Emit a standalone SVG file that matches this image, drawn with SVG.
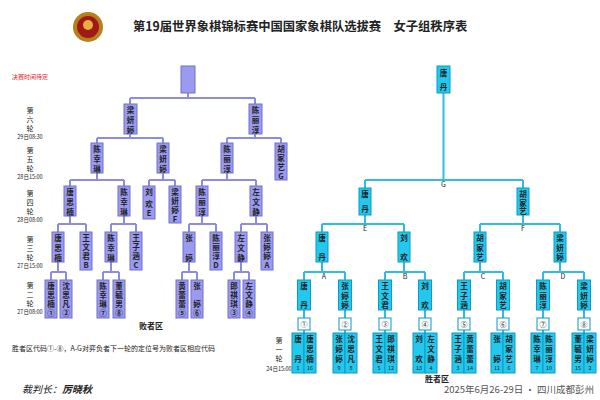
<svg xmlns="http://www.w3.org/2000/svg" width="600" height="400" viewBox="0 0 600 400">
<style>
text{font-family:"Noto Sans CJK SC","Noto Sans",sans-serif;fill:#222}
.p{fill:#9a9af0;stroke:#7070d0;stroke-width:1}
.c{fill:#22c8ee;stroke:#0a9cc4;stroke-width:1}
.lp{fill:none;stroke:#8c8ce0;stroke-width:2}
.lc{fill:none;stroke:#30bde0;stroke-width:2}
.n{font-size:7.6px;text-anchor:middle;font-weight:bold}
.s{font-size:5.5px;text-anchor:middle}
.r{font-size:7px;text-anchor:middle}
.L{font-size:7px;text-anchor:middle}
</style>
<rect width="600" height="400" fill="#fff"/>
<g id="header">
<circle cx="88" cy="27" r="15" fill="#b8801a"/><circle cx="88" cy="27" r="11" fill="#a01818"/><circle cx="88" cy="25" r="5" fill="#e8b040"/>
<text x="133" y="31" style="font-size:12.3px;font-weight:bold">第19届世界象棋锦标赛中国国家象棋队选拔赛　女子组秩序表</text>
<text x="12" y="79" style="font-size:6px;fill:#e02020">决赛时间待定</text>
</g>
<g id="round-labels">
<text class="r" x="30" y="113">第<tspan x="30" dy="9">六</tspan><tspan x="30" dy="9">轮</tspan></text><text class="s" x="30" y="139">29日08:30</text>
<text class="r" x="30" y="153">第<tspan x="30" dy="9">五</tspan><tspan x="30" dy="9">轮</tspan></text><text class="s" x="30" y="179">28日15:00</text>
<text class="r" x="30" y="196">第<tspan x="30" dy="9">四</tspan><tspan x="30" dy="9">轮</tspan></text><text class="s" x="30" y="222">28日08:00</text>
<text class="r" x="30" y="242">第<tspan x="30" dy="9">三</tspan><tspan x="30" dy="9">轮</tspan></text><text class="s" x="30" y="268">27日15:00</text>
<text class="r" x="30" y="288">第<tspan x="30" dy="9">二</tspan><tspan x="30" dy="9">轮</tspan></text><text class="s" x="30" y="314">27日08:00</text>
<text class="r" x="279" y="343">第<tspan x="279" dy="9">一</tspan><tspan x="279" dy="9">轮</tspan></text><text class="s" x="279" y="371">24日15:00</text>
</g>
<g id="connectors">
<path class="lp" d="M188,93V98M130,98H255M130,98V104M255,98V104
M130,134V138M97,138H163M97,138V143M163,138V143M255,134V138M227,138H281M227,138V143M281,138V143
M97,173V180M70,180H124M70,180V186M124,180V186M163,173V180M149,180H175M149,180V186M175,180V186M227,173V180M202,180H256M202,180V186M256,180V186
M70,216V224M58,224H86M58,224V232M86,224V232M124,216V224M111,224H136M111,224V232M136,224V232M202,216V224M189,224H216M189,224V232M216,224V232M256,216V224M241,224H267M241,224V232M267,224V232
M58,262V272M51,272H66M51,272V280M66,272V280M111,262V272M103,272H119M103,272V280M119,272V280M189,262V272M182,272H197M182,272V280M197,272V280M241,262V272M234,272H249M234,272V280M249,272V280"/>
<path class="lc" d="M443.5,93V180M365,180H523M365,180V188M523,180V188
M365,215V224M322,224H404M322,224V232M404,224V232M523,215V224M480,224H560M480,224V232M560,224V232
M322,262V272M304,272H345M304,272V280M345,272V280M404,262V272M385,272H425M385,272V280M425,272V280M480,262V272M464,272H503M464,272V280M503,272V280M560,262V272M543,272H584M543,272V280M584,272V280
M304,310V333M345,310V333M385,310V333M425,310V333M464,310V333M503,310V333M543,310V333M584,310V333"/>
<text class="L" x="443.5" y="187">G</text><text class="L" x="365" y="231">E</text><text class="L" x="523" y="231">F</text>
<text class="L" x="324" y="279">A</text><text class="L" x="405" y="279">B</text><text class="L" x="483" y="279">C</text><text class="L" x="563" y="279">D</text>
</g>
<g id="loser-bracket">
<rect class="p" x="181" y="66" width="14" height="27"/>
<g id="l5a"><rect class="p" x="124" y="104" width="13" height="30"/><text class="n" x="130.5" y="113">梁<tspan x="130.5" dy="10">妍</tspan><tspan x="130.5" dy="10">婷</tspan></text></g>
<g id="l5b"><rect class="p" x="249" y="104" width="13" height="30"/><text class="n" x="255.5" y="113">陈<tspan x="255.5" dy="10">丽</tspan><tspan x="255.5" dy="10">淳</tspan></text></g>
<g id="l4a"><rect class="p" x="91" y="143" width="12" height="30"/><text class="n" x="97" y="152">陈<tspan x="97" dy="10">幸</tspan><tspan x="97" dy="10">琳</tspan></text></g>
<g id="l4b"><rect class="p" x="157" y="143" width="12" height="30"/><text class="n" x="163" y="152">梁<tspan x="163" dy="10">妍</tspan><tspan x="163" dy="10">婷</tspan></text></g>
<g id="l4c"><rect class="p" x="221" y="143" width="12" height="30"/><text class="n" x="227" y="152">陈<tspan x="227" dy="10">丽</tspan><tspan x="227" dy="10">淳</tspan></text></g>
<g id="l4d"><rect class="p" x="275" y="143" width="12" height="37"/><text class="n" x="281" y="152">胡<tspan x="281" dy="9">家</tspan><tspan x="281" dy="9">艺</tspan><tspan x="281" dy="9">G</tspan></text></g>
<g id="l3a"><rect class="p" x="64" y="186" width="12" height="30"/><text class="n" x="70" y="195">唐<tspan x="70" dy="10">思</tspan><tspan x="70" dy="10">楠</tspan></text></g>
<g id="l3b"><rect class="p" x="118" y="186" width="12" height="30"/><text class="n" x="124" y="195">陈<tspan x="124" dy="10">幸</tspan><tspan x="124" dy="10">琳</tspan></text></g>
<g id="l3c"><rect class="p" x="143" y="186" width="12" height="33"/><text class="n" x="149" y="195">刘<tspan x="149" dy="12">欢</tspan><tspan x="149" dy="9">E</tspan></text></g>
<g id="l3d"><rect class="p" x="169" y="186" width="12" height="37"/><text class="n" x="175" y="195">梁<tspan x="175" dy="9">妍</tspan><tspan x="175" dy="9">婷</tspan><tspan x="175" dy="9">F</tspan></text></g>
<g id="l3e"><rect class="p" x="196" y="186" width="12" height="30"/><text class="n" x="202" y="195">陈<tspan x="202" dy="10">丽</tspan><tspan x="202" dy="10">淳</tspan></text></g>
<g id="l3f"><rect class="p" x="250" y="186" width="12" height="30"/><text class="n" x="256" y="195">左<tspan x="256" dy="10">文</tspan><tspan x="256" dy="10">静</tspan></text></g>
<g id="l2a"><rect class="p" x="52" y="232" width="12" height="30"/><text class="n" x="58" y="241">唐<tspan x="58" dy="10">思</tspan><tspan x="58" dy="10">楠</tspan></text></g>
<g id="l2b"><rect class="p" x="80" y="232" width="12" height="38"/><text class="n" x="86" y="241">王<tspan x="86" dy="9">文</tspan><tspan x="86" dy="9">君</tspan><tspan x="86" dy="9">B</tspan></text></g>
<g id="l2c"><rect class="p" x="105" y="232" width="12" height="30"/><text class="n" x="111" y="241">陈<tspan x="111" dy="10">幸</tspan><tspan x="111" dy="10">琳</tspan></text></g>
<g id="l2d"><rect class="p" x="130" y="232" width="12" height="38"/><text class="n" x="136" y="241">王<tspan x="136" dy="9">子</tspan><tspan x="136" dy="9">涵</tspan><tspan x="136" dy="9">C</tspan></text></g>
<g id="l2e"><rect class="p" x="183" y="232" width="12" height="30"/><text class="n" x="189" y="241">张<tspan x="189" dy="20">婷</tspan></text></g>
<g id="l2f"><rect class="p" x="210" y="232" width="12" height="38"/><text class="n" x="216" y="241">陈<tspan x="216" dy="9">丽</tspan><tspan x="216" dy="9">淳</tspan><tspan x="216" dy="9">D</tspan></text></g>
<g id="l2g"><rect class="p" x="235" y="232" width="12" height="30"/><text class="n" x="241" y="241">左<tspan x="241" dy="10">文</tspan><tspan x="241" dy="10">静</tspan></text></g>
<g id="l2h"><rect class="p" x="261" y="232" width="12" height="38"/><text class="n" x="267" y="241">张<tspan x="267" dy="9">婷</tspan><tspan x="267" dy="9">婷</tspan><tspan x="267" dy="9">A</tspan></text></g>
<g id="l1a"><rect class="p" x="45" y="280" width="12" height="38"/><rect class="p" x="60" y="280" width="12" height="38"/>
<text class="n" x="51" y="289">唐<tspan x="51" dy="9">思</tspan><tspan x="51" dy="9">楠</tspan><tspan x="51" dy="9">①</tspan></text>
<text class="n" x="66" y="289">沈<tspan x="66" dy="9">思</tspan><tspan x="66" dy="9">凡</tspan><tspan x="66" dy="9">②</tspan></text></g>
<g id="l1b"><rect class="p" x="97" y="280" width="12" height="38"/><rect class="p" x="113" y="280" width="12" height="38"/>
<text class="n" x="103" y="289">陈<tspan x="103" dy="9">幸</tspan><tspan x="103" dy="9">琳</tspan><tspan x="103" dy="9">⑦</tspan></text>
<text class="n" x="119" y="289">董<tspan x="119" dy="9">毓</tspan><tspan x="119" dy="9">男</tspan><tspan x="119" dy="9">⑧</tspan></text></g>
<g id="l1c"><rect class="p" x="176" y="280" width="12" height="38"/><rect class="p" x="191" y="280" width="12" height="38"/>
<text class="n" x="182" y="289">黄<tspan x="182" dy="9">蕾</tspan><tspan x="182" dy="9">蕾</tspan><tspan x="182" dy="9">⑤</tspan></text>
<text class="n" x="197" y="289">张<tspan x="197" dy="18">婷</tspan><tspan x="197" dy="9">⑥</tspan></text></g>
<g id="l1d"><rect class="p" x="228" y="280" width="12" height="38"/><rect class="p" x="243" y="280" width="12" height="38"/>
<text class="n" x="234" y="289">郎<tspan x="234" dy="9">祺</tspan><tspan x="234" dy="9">琪</tspan><tspan x="234" dy="9">③</tspan></text>
<text class="n" x="249" y="289">左<tspan x="249" dy="9">文</tspan><tspan x="249" dy="9">静</tspan><tspan x="249" dy="9">④</tspan></text></g>
<text x="151" y="329" style="font-size:8px;font-weight:bold;text-anchor:middle">败者区</text>
</g>
<g id="winner-bracket">
<g id="w0"><rect class="c" x="437" y="66" width="13" height="27"/><text class="n" x="443.5" y="76">唐<tspan x="443.5" dy="14">丹</tspan></text></g>
<g id="w3a"><rect class="c" x="359" y="188" width="12" height="27"/><text class="n" x="365" y="197">唐<tspan x="365" dy="15">丹</tspan></text></g>
<g id="w3b"><rect class="c" x="517" y="188" width="12" height="27"/><text class="n" x="523" y="197">胡<tspan x="523" dy="8.5">家</tspan><tspan x="523" dy="8.5">艺</tspan></text></g>
<g id="w2a"><rect class="c" x="316" y="232" width="12" height="30"/><text class="n" x="322" y="241">唐<tspan x="322" dy="19">丹</tspan></text></g>
<g id="w2b"><rect class="c" x="398" y="232" width="12" height="30"/><text class="n" x="404" y="241">刘<tspan x="404" dy="19">欢</tspan></text></g>
<g id="w2c"><rect class="c" x="474" y="232" width="12" height="30"/><text class="n" x="480" y="241">胡<tspan x="480" dy="9.5">家</tspan><tspan x="480" dy="9.5">艺</tspan></text></g>
<g id="w2d"><rect class="c" x="554" y="232" width="12" height="30"/><text class="n" x="560" y="241">梁<tspan x="560" dy="9.5">妍</tspan><tspan x="560" dy="9.5">婷</tspan></text></g>
<g id="w1">
<rect class="c" x="297.5" y="280" width="13" height="30"/><text class="n" x="304" y="289">唐<tspan x="304" dy="19">丹</tspan></text>
<rect class="c" x="338.5" y="280" width="13" height="30"/><text class="n" x="345" y="289">张<tspan x="345" dy="9.5">婷</tspan><tspan x="345" dy="9.5">婷</tspan></text>
<rect class="c" x="378.5" y="280" width="13" height="30"/><text class="n" x="385" y="289">王<tspan x="385" dy="9.5">文</tspan><tspan x="385" dy="9.5">君</tspan></text>
<rect class="c" x="418.5" y="280" width="13" height="30"/><text class="n" x="425" y="289">刘<tspan x="425" dy="19">欢</tspan></text>
<rect class="c" x="457.5" y="280" width="13" height="30"/><text class="n" x="464" y="289">王<tspan x="464" dy="9.5">子</tspan><tspan x="464" dy="9.5">涵</tspan></text>
<rect class="c" x="496.5" y="280" width="13" height="30"/><text class="n" x="503" y="289">胡<tspan x="503" dy="9.5">家</tspan><tspan x="503" dy="9.5">艺</tspan></text>
<rect class="c" x="536.5" y="280" width="13" height="30"/><text class="n" x="543" y="289">陈<tspan x="543" dy="9.5">丽</tspan><tspan x="543" dy="9.5">淳</tspan></text>
<rect class="c" x="577.5" y="280" width="13" height="30"/><text class="n" x="584" y="289">梁<tspan x="584" dy="9.5">妍</tspan><tspan x="584" dy="9.5">婷</tspan></text>
</g>
<g id="codes" style="fill:#fff;stroke:#0a9cc4">
<rect x="298" y="318" width="12" height="12" fill="#fff"/><rect x="339" y="318" width="12" height="12" fill="#fff"/><rect x="379" y="318" width="12" height="12" fill="#fff"/><rect x="419" y="318" width="12" height="12" fill="#fff"/>
<rect x="458" y="318" width="12" height="12" fill="#fff"/><rect x="497" y="318" width="12" height="12" fill="#fff"/><rect x="537" y="318" width="12" height="12" fill="#fff"/><rect x="578" y="318" width="12" height="12" fill="#fff"/>
</g>
<text class="r" x="304" y="327">①</text><text class="r" x="345" y="327">②</text><text class="r" x="385" y="327">③</text><text class="r" x="425" y="327">④</text>
<text class="r" x="464" y="327">⑤</text><text class="r" x="503" y="327">⑥</text><text class="r" x="543" y="327">⑦</text><text class="r" x="584" y="327">⑧</text>
<g id="r1-1"><rect class="c" x="292" y="333" width="12" height="40"/><rect class="c" x="304" y="333" width="12" height="40"/><text class="n" x="298" y="342">唐<tspan x="298" dy="20">丹</tspan></text><text class="n" x="310" y="342">唐<tspan x="310" dy="10">思</tspan><tspan x="310" dy="10">楠</tspan></text><text class="s" x="298" y="370">1</text><text class="s" x="310" y="370">16</text></g>
<g id="r1-2"><rect class="c" x="333" y="333" width="12" height="40"/><rect class="c" x="345" y="333" width="12" height="40"/><text class="n" x="339" y="342">张<tspan x="339" dy="10">婷</tspan><tspan x="339" dy="10">婷</tspan></text><text class="n" x="351" y="342">沈<tspan x="351" dy="10">思</tspan><tspan x="351" dy="10">凡</tspan></text><text class="s" x="339" y="370">9</text><text class="s" x="351" y="370">8</text></g>
<g id="r1-3"><rect class="c" x="373" y="333" width="12" height="40"/><rect class="c" x="385" y="333" width="12" height="40"/><text class="n" x="379" y="342">王<tspan x="379" dy="10">文</tspan><tspan x="379" dy="10">君</tspan></text><text class="n" x="391" y="342">郎<tspan x="391" dy="10">祺</tspan><tspan x="391" dy="10">琪</tspan></text><text class="s" x="379" y="370">5</text><text class="s" x="391" y="370">12</text></g>
<g id="r1-4"><rect class="c" x="413" y="333" width="12" height="40"/><rect class="c" x="425" y="333" width="12" height="40"/><text class="n" x="419" y="342">刘<tspan x="419" dy="20">欢</tspan></text><text class="n" x="431" y="342">左<tspan x="431" dy="10">文</tspan><tspan x="431" dy="10">静</tspan></text><text class="s" x="419" y="370">13</text><text class="s" x="431" y="370">4</text></g>
<g id="r1-5"><rect class="c" x="452" y="333" width="12" height="40"/><rect class="c" x="464" y="333" width="12" height="40"/><text class="n" x="458" y="342">王<tspan x="458" dy="10">子</tspan><tspan x="458" dy="10">涵</tspan></text><text class="n" x="470" y="342">黄<tspan x="470" dy="10">蕾</tspan><tspan x="470" dy="10">蕾</tspan></text><text class="s" x="458" y="370">3</text><text class="s" x="470" y="370">14</text></g>
<g id="r1-6"><rect class="c" x="491" y="333" width="12" height="40"/><rect class="c" x="503" y="333" width="12" height="40"/><text class="n" x="497" y="342">张<tspan x="497" dy="20">婷</tspan></text><text class="n" x="509" y="342">胡<tspan x="509" dy="10">家</tspan><tspan x="509" dy="10">艺</tspan></text><text class="s" x="497" y="370">11</text><text class="s" x="509" y="370">6</text></g>
<g id="r1-7"><rect class="c" x="531" y="333" width="12" height="40"/><rect class="c" x="543" y="333" width="12" height="40"/><text class="n" x="537" y="342">陈<tspan x="537" dy="10">幸</tspan><tspan x="537" dy="10">琳</tspan></text><text class="n" x="549" y="342">陈<tspan x="549" dy="10">丽</tspan><tspan x="549" dy="10">淳</tspan></text><text class="s" x="537" y="370">7</text><text class="s" x="549" y="370">10</text></g>
<g id="r1-8"><rect class="c" x="572" y="333" width="12" height="40"/><rect class="c" x="584" y="333" width="12" height="40"/><text class="n" x="578" y="342">董<tspan x="578" dy="10">毓</tspan><tspan x="578" dy="10">男</tspan></text><text class="n" x="590" y="342">梁<tspan x="590" dy="10">妍</tspan><tspan x="590" dy="10">婷</tspan></text><text class="s" x="578" y="370">15</text><text class="s" x="590" y="370">2</text></g>
<text x="437" y="382" style="font-size:8px;font-weight:bold;text-anchor:middle">胜者区</text>
</g>
<g id="footer">
<text x="12" y="351" style="font-size:7px">胜者区代码①-⑧，A-G对弈负者下一轮的定位号为败者区相应代码</text>
<text x="22" y="393" style="font-size:10px;font-style:italic">裁判长：<tspan font-weight="bold">厉晓秋</tspan></text>
<text x="594" y="393" style="font-size:9.5px;fill:#555;text-anchor:end">2025年6月26-29日 · 四川成都彭州</text>
</g>
</svg>
